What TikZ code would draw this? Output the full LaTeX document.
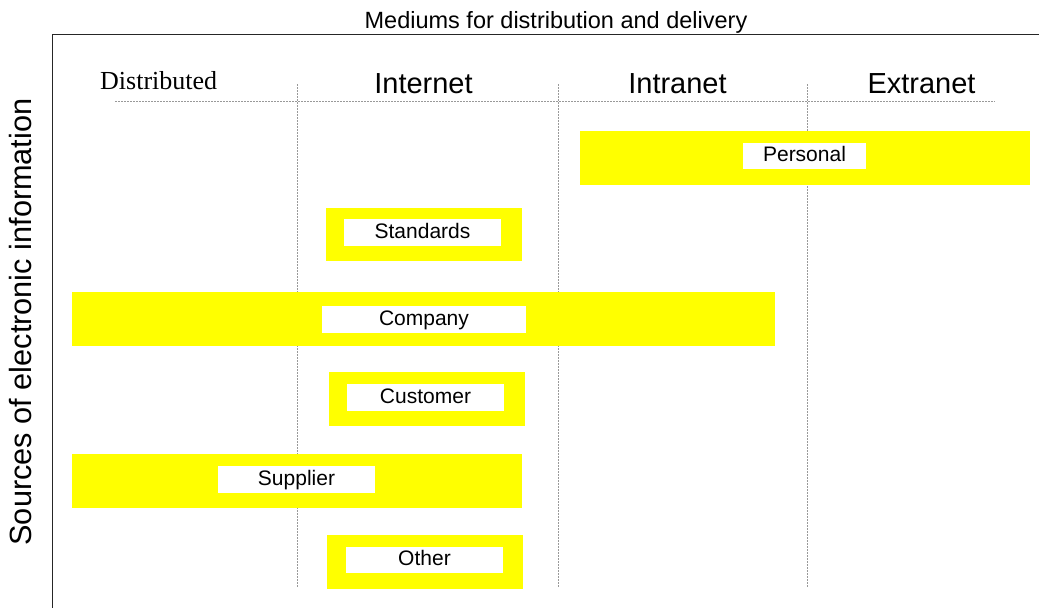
\documentclass[tikz,border=0pt]{standalone}
\usepackage{fontspec}
\setmainfont{Liberation Sans}
\newfontfamily\timesf{Liberation Serif}
\definecolor{bandyellow}{RGB}{255,255,0}
\begin{document}
\begin{tikzpicture}[x=1pt,y=-1pt,
  frameline/.style={line width=1pt, draw=black!85},
  divider/.style={draw=black!40, line width=0.5pt, dash pattern=on 2pt off 1pt},
  band/.style={fill=bandyellow, draw=none, inner sep=0pt},
  tag/.style={fill=white, draw=none, inner sep=0pt, text height=15pt, text depth=4pt,
    font=\fontsize{21}{25}\selectfont},
  header/.style={anchor=base, inner sep=0pt, font=\fontsize{29}{34}\selectfont}]
\useasboundingbox (0,0) rectangle (1039,608);
% frame
\coordinate (fTR) at (1039,34);
\coordinate (fTL) at (52,34);
\coordinate (fBL) at (52,608);
\draw[frameline] (fTR) -- (fTL) -- (fBL);
% title and side label
\node[anchor=base, inner sep=0pt, font=\fontsize{23.5}{28}\selectfont] (title) at (556,28) {Mediums for distribution and delivery};
\node[rotate=90, inner sep=0pt, font=\fontsize{30.7}{36}\selectfont] (side) at (21,322) {Sources of electronic information};
% headers
\node[anchor=base west, inner sep=0pt, font=\timesf\fontsize{26}{31}\selectfont] (hdist) at (100,89) {Distributed};
\node[header] (hint) at (423.5,93) {Internet};
\node[header] (hintra) at (677.5,93) {Intranet};
\node[header] (hext) at (921.5,93) {Extranet};
% dividers
\coordinate (hl) at (115,101);
\coordinate (hr) at (995,101);
\draw[divider] (hl) -- (hr);
\coordinate (v1t) at (297.5,84); \coordinate (v1b) at (297.5,587);
\coordinate (v2t) at (558,84);   \coordinate (v2b) at (558,587);
\coordinate (v3t) at (807,84);   \coordinate (v3b) at (807,587);
\draw[divider] (v1t) -- (v1b);
\draw[divider] (v2t) -- (v2b);
\draw[divider] (v3t) -- (v3b);
% bands
\node[band, minimum width=450pt, minimum height=54pt] (personalband) at (805,158) {};
\node[tag, minimum width=123pt, minimum height=26pt] (personal) at (804.5,156) {Personal};
\node[band, minimum width=196pt, minimum height=53pt] (standardsband) at (424,234.5) {};
\node[tag, minimum width=157pt, minimum height=27pt] (standards) at (422.5,232.5) {Standards};
\node[band, minimum width=703pt, minimum height=54pt] (companyband) at (423.5,319) {};
\node[tag, minimum width=204pt, minimum height=27pt] (company) at (424,319.5) {Company};
\node[band, minimum width=196pt, minimum height=54pt] (customerband) at (427,399) {};
\node[tag, minimum width=157pt, minimum height=27pt] (customer) at (425.5,397.5) {Customer};
\node[band, minimum width=450pt, minimum height=54pt] (supplierband) at (297,481) {};
\node[tag, minimum width=157pt, minimum height=27pt] (supplier) at (296.5,479.5) {Supplier};
\node[band, minimum width=196pt, minimum height=54pt] (otherband) at (425,562) {};
\node[tag, minimum width=157pt, minimum height=26pt] (other) at (424.5,560) {Other};
\end{tikzpicture}
\end{document}
